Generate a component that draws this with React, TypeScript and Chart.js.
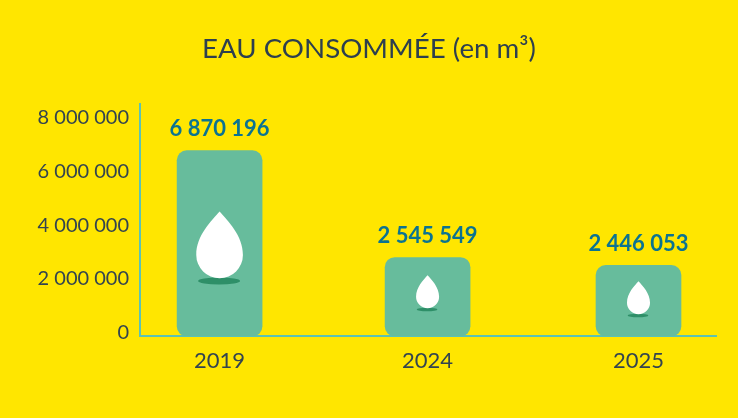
import React, { useEffect, useRef } from "react";
import { Chart, registerables } from "chart.js";

Chart.register(...registerables);

const categories = ["2019", "2024", "2025"];
const categoryPositions = [0, 0.993, 2];
const barHeights = [6870196, 2910000, 2620000];
const valueLabels = ["6 870 196", "2 545 549", "2 446 053"];
const dropTops = [4610000, 2250000, 2030000];
const dropBottoms = [2140000, 1030000, 810000];
const titleText = "EAU CONSOMMÉE (en m³)";

const FONT = "Lato, 'Open Sans', sans-serif";

const dropsPlugin = {
  id: "drops",
  afterDatasetsDraw(chart: any) {
    const { ctx, scales } = chart;
    const meta = chart.getDatasetMeta(0);
    ctx.save();
    meta.data.forEach((bar: any, i: number) => {
      const cx = bar.x;
      const top = scales.y.getPixelForValue(dropTops[i]);
      const bottom = scales.y.getPixelForValue(dropBottoms[i]);
      const h = bottom - top;
      const r = h * 0.35;
      const cy = bottom - r;
      // shadow
      ctx.fillStyle = "#2E8F68";
      ctx.beginPath();
      ctx.ellipse(cx - 0.5, bottom + h * 0.04, r * 0.9, Math.max(1.6, h * 0.052), 0, 0, Math.PI * 2);
      ctx.fill();
      // drop
      ctx.fillStyle = "#FFFFFF";
      ctx.beginPath();
      ctx.moveTo(cx, top);
      ctx.bezierCurveTo(cx + r * 0.35, top + h * 0.14, cx + r, top + h * 0.36, cx + r, cy);
      ctx.arc(cx, cy, r, 0, Math.PI);
      ctx.bezierCurveTo(cx - r, top + h * 0.36, cx - r * 0.35, top + h * 0.14, cx, top);
      ctx.closePath();
      ctx.fill();
      // value above the bar
      ctx.fillStyle = "#0B7391";
      ctx.font = `bold 22px ${FONT}`;
      ctx.textAlign = "center";
      ctx.textBaseline = "middle";
      ctx.fillText(valueLabels[i], cx, bar.y - 21.5);
    });
    ctx.restore();
  },
};

export default function App() {
  const ref = useRef<HTMLCanvasElement | null>(null);

  useEffect(() => {
    document.body.style.margin = "0";
    document.body.style.background = "#FFE600";
    const chart = new Chart(ref.current!, {
      type: "bar",
      data: {
        datasets: [
          {
            data: categoryPositions.map((x, i) => ({ x, y: barHeights[i] })),
            backgroundColor: "#67BC9C",
            borderWidth: 0,
            borderRadius: 10,
            borderSkipped: false,
            barThickness: 85,
          },
        ],
      },
      options: {
        animation: false,
        responsive: false,
        layout: { padding: { left: 22, right: 22, top: 0, bottom: 0 } },
        plugins: {
          legend: { display: false },
          tooltip: { enabled: false },
          title: {
            display: true,
            text: titleText,
            color: "#2D3F4E",
            font: { family: FONT, size: 27.7, weight: "normal" },
            padding: { top: 32, bottom: 39 },
          },
        },
        scales: {
          x: {
            type: "linear",
            offset: false,
            min: -0.38,
            max: 2.37,
            afterBuildTicks: (axis: any) => {
              axis.ticks = categoryPositions.map((value) => ({ value }));
            },
            afterFit: (axis: any) => {
              axis.height = 82;
            },
            grid: { display: false, drawTicks: false },
            border: { color: "#5CC2B4", width: 2 },
            ticks: {
              color: "#33444F",
              font: { family: FONT, size: 22 },
              padding: 12,
              maxRotation: 0,
              autoSkip: false,
              callback: (v: any) => categories[categoryPositions.indexOf(v)] ?? "",
            },
          },
          y: {
            min: 0,
            max: 8590000,
            afterBuildTicks: (axis: any) => {
              axis.ticks = [0, 2000000, 4000000, 6000000, 8000000].map((value) => ({ value }));
            },
            afterFit: (axis: any) => {
              axis.width = 118;
            },
            grid: { display: false, drawTicks: false },
            border: { color: "#5CC2B4", width: 2 },
            ticks: {
              color: "#33444F",
              font: { family: FONT, size: 20 },
              padding: 11,
              labelOffset: -3,
              callback: (v: any) => String(v).replace(/\B(?=(\d{3})+$)/g, " "),
            },
          },
        },
      } as any,
      plugins: [
        {
          id: "bg",
          beforeDraw(c: any) {
            c.ctx.save();
            c.ctx.fillStyle = "#FFE600";
            c.ctx.fillRect(0, 0, c.width, c.height);
            c.ctx.restore();
          },
        },
        dropsPlugin,
      ],
    });
    return () => chart.destroy();
  }, []);

  return <canvas ref={ref} width={738} height={418} style={{ display: "block" }} />;
}
